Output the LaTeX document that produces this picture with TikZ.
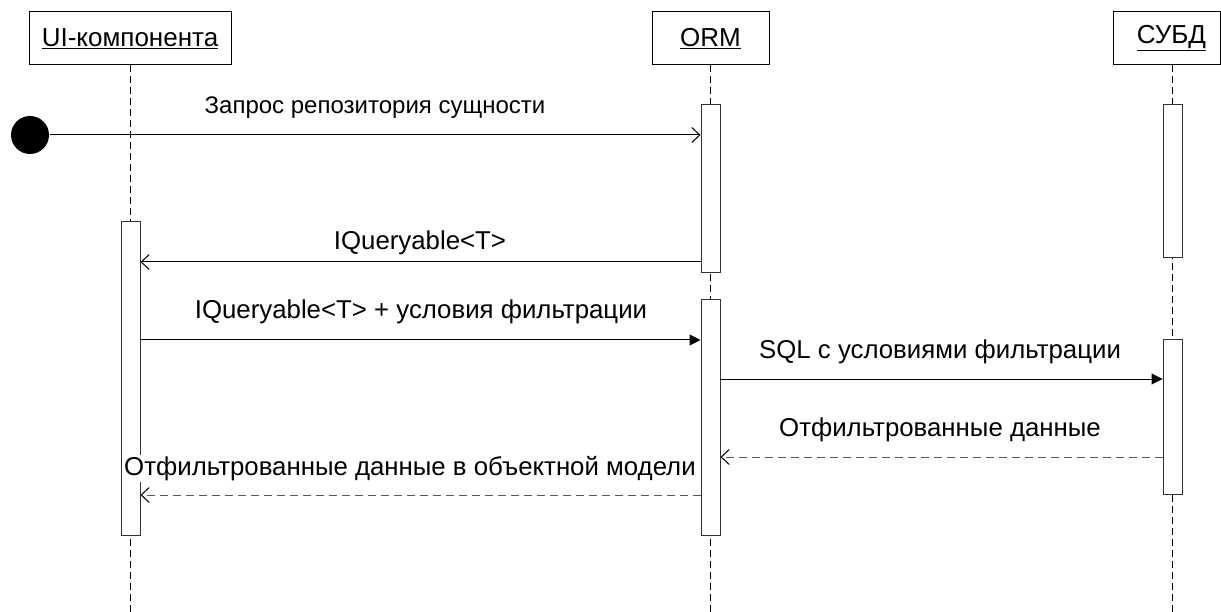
\documentclass[tikz,border=0pt]{standalone}
\usepackage{fontspec}
\setmainfont{Liberation Sans}
\usetikzlibrary{arrows.meta}
\begin{document}
\begin{tikzpicture}[x=1pt,y=-1pt,line width=1pt,
  head/.style={draw, line width=1pt, minimum height=53pt, inner sep=0pt, font=\fontsize{26}{29}\selectfont},
  act/.style={draw=black!80, fill=white, line width=1pt, minimum width=19pt, inner sep=0pt},
  life/.style={dash pattern=on 7pt off 4pt, line width=1pt},
  call/.style={-{Straight Barb[length=8pt,width=15pt]}},
  sync/.style={-{Triangle[length=11pt,width=11pt]}},
  ret/.style={draw=black!65, dash pattern=on 8pt off 5pt, -{Straight Barb[length=8pt,width=15pt,color=black]}},
  lbl/.style={font=\fontsize{25.8}{29}\selectfont, inner sep=1pt}]
\useasboundingbox (0,0) rectangle (1221,612);
% headers
\node[head, minimum width=202pt] (ui) at (130,38.5) {\underline{UI-компонента}};
\node[head, minimum width=117pt] (orm) at (710.5,38.5) {\underline{ORM}};
\node[head, minimum width=107pt] (db) at (1166.5,38.5) {\hspace*{10pt}\underline{СУБД}};
% lifeline ends
\coordinate (uiend) at (130,612);
\coordinate (ormend) at (710.5,612);
\coordinate (dbend) at (1172.5,612);
\draw[life] (ui.south -| uiend) -- (uiend);
\draw[life] (orm.south) -- (ormend);
\draw[life] (db.south -| dbend) -- (dbend);
% activation bars
\node[act, minimum height=168pt] (oa1) at (710.5,189) {};
\node[act, minimum height=153pt] (da1) at (1172.5,181.5) {};
\node[act, minimum height=313pt] (ua) at (130.5,378.5) {};
\node[act, minimum height=235pt] (oa2) at (710.5,417.5) {};
\node[act, minimum height=155pt] (da2) at (1172.5,417) {};
% start
\node[circle, fill=black, minimum size=38pt, inner sep=0pt] (start) at (30,135) {};
% message levels
\coordinate (y2) at (0,262);
\coordinate (y3) at (0,340);
\coordinate (y4) at (0,379);
\coordinate (y5) at (0,457);
\coordinate (y6) at (0,495);
% messages
\draw[call] (start.east) -- (start -| oa1.west);
\node[lbl, font=\fontsize{24}{27}\selectfont] (l1) at (375,108) {Запрос репозитория сущности};
\draw[call] (oa1.west |- y2) -- (ua.east |- y2);
\node[lbl] (l2) at (420,243) {IQueryable<T>};
\draw[sync] (ua.east |- y3) -- (oa2.west |- y3);
\node[lbl] (l3) at (421,312) {IQueryable<T> + условия фильтрации};
\draw[sync] (oa2.east |- y4) -- (da2.west |- y4);
\node[lbl] (l4) at (940,352) {SQL с условиями фильтрации};
\draw[ret] (da2.west |- y5) -- (oa2.east |- y5);
\node[lbl] (l5) at (940,430) {Отфильтрованные данные};
\draw[ret] (oa2.west |- y6) -- (ua.east |- y6);
\node[lbl, fill=white] (l6) at (410,468.5) {Отфильтрованные данные в объектной модели};
\end{tikzpicture}
\end{document}
